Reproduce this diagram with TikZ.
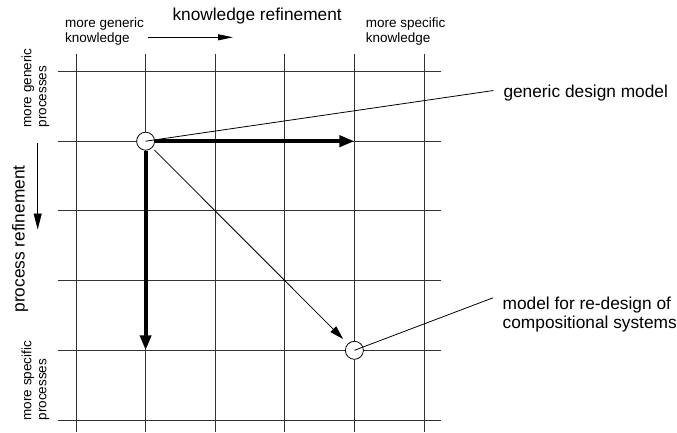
\documentclass[tikz,border=0pt]{standalone}
\usepackage{fontspec}
\setmainfont{Liberation Sans}
\usetikzlibrary{arrows.meta}
\begin{document}
\begin{tikzpicture}[x=1pt,y=-1pt,
  gridline/.style={draw=black!80,line width=0.9pt},
  dot/.style={circle,draw,fill=white,minimum size=18pt,inner sep=0pt,line width=0.8pt},
  small/.style={font=\fontsize{13.5}{14.8}\selectfont,inner sep=0pt,align=left},
  big/.style={font=\fontsize{17.3}{18.5}\selectfont,inner sep=0pt,align=left},
  bigarrow/.style={line width=4pt,-{Triangle[length=15pt,width=11pt]}},
  thinarrow/.style={line width=0.8pt,-{Triangle[length=14pt,width=8pt]}},
  leader/.style={line width=0.8pt}]
\useasboundingbox (0,0) rectangle (677,432);

% refinement grid
\foreach \i in {0,...,5}
  \draw[gridline] ({76+69.6*\i},54) -- ({76+69.6*\i},432);
\foreach \j in {0,...,5}
  \draw[gridline] (58,{71.5+69.7*\j}) -- (441,{71.5+69.7*\j});

% axis titles
\node[big,anchor=base west] (kref) at (172.3,20.7) {knowledge refinement};
\node[small,anchor=north west] (kgen) at (65,17.8) {more generic\\knowledge};
\node[small,anchor=north west] (kspec) at (365.7,17.8) {more specific\\knowledge};
\node[big,rotate=90,anchor=base] (pref) at (24.5,239) {process refinement};
\node[small,rotate=90,anchor=north west] (pgen) at (21.5,127.5) {more generic\\processes};
\node[small,rotate=90,anchor=north west] (pspec) at (21.5,420.5) {more specific\\processes};

% direction arrows
\coordinate (ka) at (148,37.3);
\coordinate (kb) at (233,37.3);
\draw[line width=0.8pt,-{Triangle[length=15pt,width=6pt]}] (ka) -- (kb);
\coordinate (pa) at (37.7,143);
\coordinate (pb) at (37.7,229.5);
\draw[line width=0.8pt,-{Triangle[length=16pt,width=8pt]}] (pa) -- (pb);

% models
\node[dot] (gen) at (145.6,141.2) {};
\node[dot] (spec) at (354.4,350.3) {};
\coordinate (hend) at (354.4,141.2);
\coordinate (vend) at (145.6,350.3);
\draw[bigarrow] (gen) -- (hend);
\draw[bigarrow] (gen) -- (vend);
\draw[thinarrow,shorten <=3pt,shorten >=6.5pt] (gen) -- (spec);

% model labels
\node[big,anchor=base west] (gdm) at (503.3,97) {generic design model};
\node[big,anchor=north west] (rdm) at (502.5,296.8) {model for re-design of\\compositional systems};
\draw[leader] (gen.center) -- ([shift={(-10,-2)}]gdm.west);
\draw[leader] (spec.center) -- ([shift={(-9.5,1)}]rdm.north west);
\end{tikzpicture}
\end{document}
